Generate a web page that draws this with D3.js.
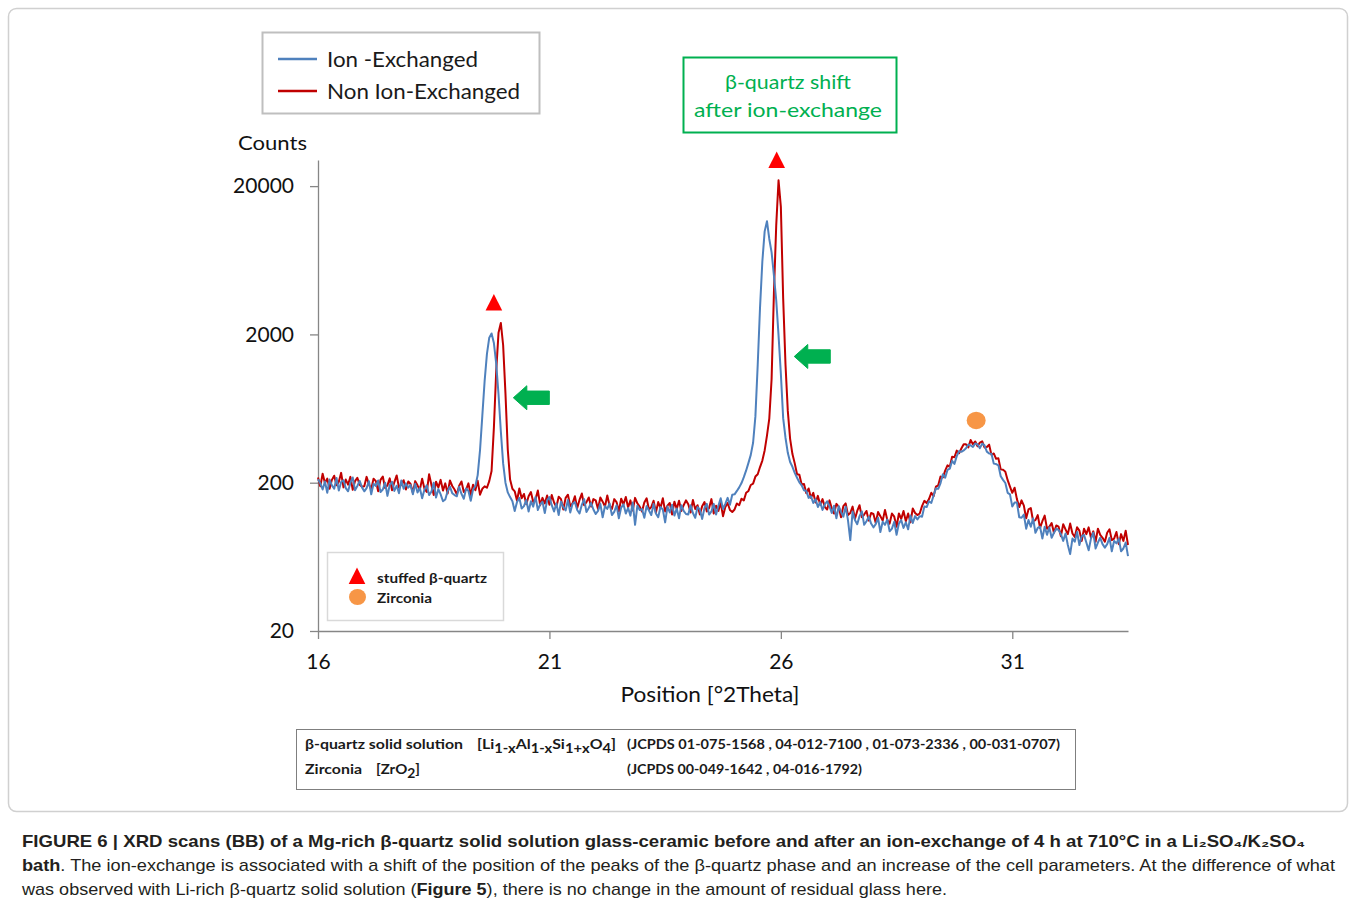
<!DOCTYPE html>
<html>
<head>
<meta charset="utf-8">
<script src="https://cdn.jsdelivr.net/npm/d3@7"></script>
<style>
  body { margin: 0; background: #fff; }
  svg { display: block; }
</style>
</head>
<body>
<svg id="chart" width="1356" height="905"></svg>
<script>
// scan grid of the diffractometer (°2Theta)
const scanStart = 16;
const scanStep = 0.05;

// counts, one value per scan step, 16.00 -> 33.50
const ionExchanged = [
  211, 198, 180, 204, 171, 210, 192, 182, 215, 177, 202, 208, 184, 175, 200, 217, 178, 190, 206, 186,
  175, 184, 205, 167, 197, 190, 207, 173, 180, 200, 163, 193, 203, 176, 191, 170, 207, 182, 198, 185,
  193, 167, 197, 172, 184, 157, 180, 192, 165, 174, 200, 159, 181, 167, 150, 154, 175, 188, 170, 165,
  162, 188, 168, 156, 183, 176, 151, 180, 190, 225, 330, 565, 970, 1480, 1900, 2030, 1750, 1270, 790, 445,
  270, 200, 172, 160, 150, 129, 148, 158, 134, 139, 153, 128, 150, 138, 160, 131, 143, 149, 125, 152,
  160, 141, 128, 145, 121, 149, 137, 130, 153, 126, 144, 148, 131, 124, 142, 155, 127, 135, 146, 132,
  123, 129, 144, 117, 139, 133, 145, 121, 127, 141, 115, 136, 143, 124, 135, 120, 147, 104, 140, 131,
  133, 116, 139, 130, 121, 144, 124, 117, 137, 132, 108, 138, 126, 142, 120, 134, 115, 141, 129, 123,
  122, 141, 125, 116, 137, 132, 114, 135, 144, 122, 128, 144, 122, 140, 157, 133, 144, 158, 142, 166,
  167, 176, 186, 199, 218, 242, 272, 308, 372, 560, 1250, 3040, 6200, 9900, 11600, 8800, 7150, 5000, 3400, 1970,
  1086, 545, 402, 318, 276, 256, 233, 216, 201, 192, 178, 176, 158, 162, 146, 155, 137, 148, 131, 143,
  150, 139, 125, 140, 115, 139, 127, 118, 138, 112, 82, 128, 112, 105, 119, 128, 104, 110, 118, 106,
  100, 105, 116, 93, 109, 104, 113, 94, 98, 109, 89, 106, 112, 99, 108, 97, 120, 107, 119, 113,
  119, 118, 138, 137, 150, 146, 164, 183, 182, 199, 228, 216, 244, 249, 281, 268, 302, 327, 323, 330,
  341, 362, 357, 348, 368, 362, 342, 367, 357, 324, 315, 314, 269, 267, 262, 221, 209, 199, 171, 167,
  138, 147, 147, 117, 116, 122, 98, 112, 101, 115, 92, 99, 101, 84, 101, 89, 100, 85, 92, 98,
  96, 90, 81, 91, 76, 66, 84, 80, 93, 76, 87, 89, 79, 70, 84, 92, 72, 79, 85, 77,
  73, 77, 85, 69, 81, 78, 84, 69, 72, 79, 64
];

const nonIonExchanged = [
  217, 189, 230, 199, 213, 182, 209, 223, 192, 203, 233, 186, 210, 194, 219, 179, 205, 216, 194, 188,
  189, 219, 195, 181, 213, 205, 175, 209, 220, 184, 192, 214, 178, 202, 224, 185, 195, 208, 180, 204,
  196, 171, 205, 192, 179, 213, 182, 173, 228, 194, 165, 203, 186, 209, 177, 198, 169, 207, 190, 180,
  167, 191, 204, 173, 180, 198, 165, 194, 178, 206, 166, 182, 189, 185, 205, 240, 470, 1130, 2050, 2390,
  1690, 800, 335, 210, 182, 175, 151, 183, 157, 168, 143, 162, 173, 148, 155, 177, 141, 158, 145, 164,
  142, 165, 147, 137, 161, 155, 132, 158, 166, 139, 145, 162, 135, 153, 169, 141, 148, 159, 138, 155,
  152, 133, 159, 149, 138, 164, 140, 133, 155, 148, 128, 156, 143, 160, 136, 152, 130, 158, 145, 138,
  128, 147, 157, 132, 137, 151, 126, 148, 135, 157, 128, 140, 146, 122, 149, 133, 151, 129, 141, 152,
  143, 126, 153, 133, 141, 122, 139, 148, 128, 135, 155, 124, 140, 129, 147, 119, 137, 146, 131, 127,
  132, 145, 141, 156, 152, 171, 176, 193, 197, 220, 228, 255, 282, 330, 415, 540, 1000, 3800, 10900, 21900,
  14500, 3500, 1260, 610, 395, 312, 270, 228, 226, 194, 196, 170, 183, 158, 171, 147, 163, 142, 155, 137,
  132, 152, 134, 124, 144, 138, 117, 139, 145, 121, 125, 138, 114, 129, 141, 117, 122, 129, 111, 125,
  123, 107, 127, 119, 111, 131, 112, 106, 124, 118, 101, 124, 114, 129, 110, 124, 108, 134, 125, 121,
  124, 139, 151, 146, 155, 171, 162, 188, 192, 220, 217, 241, 262, 256, 299, 297, 329, 316, 340, 363,
  363, 346, 388, 364, 379, 352, 373, 380, 346, 348, 361, 308, 315, 290, 292, 246, 245, 237, 208, 188,
  171, 185, 155, 137, 152, 140, 115, 132, 135, 110, 112, 121, 99, 110, 120, 98, 101, 107, 92, 103,
  101, 87, 105, 97, 90, 106, 91, 86, 100, 95, 81, 98, 90, 100, 85, 94, 80, 98, 89, 85,
  80, 92, 97, 82, 84, 93, 77, 90, 81, 95, 76
];

const xTicks = [16, 21, 26, 31];
const yTicks = [20, 200, 2000, 20000];
const seriesNames = ["Ion -Exchanged", "Non Ion-Exchanged"];
const phaseNames = ["stuffed β-quartz", "Zirconia"];

// peak markers [position, counts]
const quartzMarks = [[19.80, 2900], [25.91, 26450]];
const zirconiaMarks = [[30.22, 526]];
const shiftArrows = [[20.22, 748], [26.29, 1420]];

const font = "Lato, 'Open Sans', sans-serif";
const blue = "#4f81bd";
const red = "#c00000";
const green = "#00b050";

const svg = d3.select("#chart");
const x = d3.scaleLinear().domain([16, 33.5]).range([318, 1128]);
const y = d3.scaleLog().domain([20, 30000]).range([631, 160]);
const positions = ionExchanged.map((d, i) => +(scanStart + i * scanStep).toFixed(2));

const fit = (sel, len) => sel.attr("textLength", len).attr("lengthAdjust", "spacingAndGlyphs");

// figure frame
svg.append("rect")
  .attr("x", 8.5).attr("y", 8.5).attr("width", 1339).attr("height", 803).attr("rx", 8)
  .attr("fill", "none").attr("stroke", "#d0d0d0").attr("stroke-width", 1.5);

// axes
const yAxis = svg.append("g").attr("transform", "translate(318,0)")
  .call(d3.axisLeft(y).tickValues(yTicks).tickFormat(d3.format("d")).tickSize(8).tickSizeOuter(0).tickPadding(16));
const xAxis = svg.append("g").attr("transform", "translate(0,631)")
  .call(d3.axisBottom(x).tickValues(xTicks).tickSize(8).tickSizeOuter(0).tickPadding(15));

[yAxis, xAxis].forEach(g => {
  g.attr("font-family", font).attr("font-size", 21);
  g.select(".domain").attr("stroke", "#868686").attr("stroke-width", 1.3);
  g.selectAll(".tick line").attr("stroke", "#868686").attr("stroke-width", 1.3);
  g.selectAll(".tick text").attr("fill", "#111");
});

svg.append("text").attr("x", 238).attr("y", 150)
  .attr("font-family", font).attr("font-size", 20).attr("fill", "#111")
  .text("Counts").call(fit, 69);

svg.append("text").attr("x", 710).attr("y", 702).attr("text-anchor", "middle")
  .attr("font-family", font).attr("font-size", 21).attr("fill", "#111")
  .text("Position [°2Theta]").call(fit, 179);

// scans
const line = d3.line()
  .x((d, i) => x(positions[i]))
  .y(d => y(d));

[[nonIonExchanged, red], [ionExchanged, blue]].forEach(([vals, col]) => {
  svg.append("path")
    .datum(vals)
    .attr("d", line)
    .attr("fill", "none")
    .attr("stroke", col)
    .attr("stroke-width", 2)
    .attr("stroke-linejoin", "round");
});

// markers
const tri = (cx, by) => `M${cx},${by - 16.5}L${cx + 8.3},${by}L${cx - 8.3},${by}Z`;
quartzMarks.forEach(([p, c]) => {
  svg.append("path").attr("d", tri(x(p), y(c))).attr("fill", "#ff0000");
});
zirconiaMarks.forEach(([p, c]) => {
  svg.append("ellipse").attr("cx", x(p)).attr("cy", y(c)).attr("rx", 9.5).attr("ry", 8.7)
    .attr("fill", "#f79646");
});
shiftArrows.forEach(([p, c]) => {
  const tx = x(p), ty = y(c);
  svg.append("path")
    .attr("d", `M${tx},${ty}L${tx + 13.5},${ty - 12}L${tx + 13.5},${ty - 6.7}L${tx + 36},${ty - 6.7}` +
               `L${tx + 36},${ty + 6.7}L${tx + 13.5},${ty + 6.7}L${tx + 13.5},${ty + 12}Z`)
    .attr("fill", green).attr("stroke", green).attr("stroke-width", 1).attr("stroke-linejoin", "round");
});

// series legend
svg.append("rect").attr("x", 262.5).attr("y", 32.5).attr("width", 277).attr("height", 81)
  .attr("fill", "#fff").attr("stroke", "#bfbfbf").attr("stroke-width", 2);
seriesNames.forEach((name, i) => {
  const ly = 59 + i * 32;
  svg.append("line").attr("x1", 278).attr("x2", 317).attr("y1", ly).attr("y2", ly)
    .attr("stroke", i === 0 ? blue : red).attr("stroke-width", 2.5);
  svg.append("text").attr("x", 327).attr("y", ly + 7.5)
    .attr("font-family", font).attr("font-size", 21).attr("fill", "#1a1a1a")
    .text(name).call(fit, i === 0 ? 151 : 193);
});

// green note
svg.append("rect").attr("x", 683.5).attr("y", 57.5).attr("width", 213).attr("height", 75)
  .attr("fill", "#fff").attr("stroke", green).attr("stroke-width", 2);
[["β-quartz shift", 88.5, 126], ["after ion-exchange", 117, 188]].forEach(([t, ty, w]) => {
  svg.append("text").attr("x", 788).attr("y", ty).attr("text-anchor", "middle")
    .attr("font-family", font).attr("font-size", 20).attr("fill", green)
    .text(t).call(fit, w);
});

// phase legend
svg.append("rect").attr("x", 327.5).attr("y", 552.5).attr("width", 176).attr("height", 68)
  .attr("fill", "#fff").attr("stroke", "#d9d9d9").attr("stroke-width", 1.5);
svg.append("path").attr("d", tri(357, 584)).attr("fill", "#ff0000");
svg.append("ellipse").attr("cx", 357.5).attr("cy", 597).attr("rx", 8.5).attr("ry", 8)
  .attr("fill", "#f79646");
phaseNames.forEach((name, i) => {
  svg.append("text").attr("x", 377).attr("y", 582.5 + i * 20)
    .attr("font-family", font).attr("font-size", 14).attr("font-weight", "bold").attr("fill", "#1a1a1a")
    .text(name).call(fit, i === 0 ? 110 : 55);
});

// reference box
svg.append("rect").attr("x", 296.5).attr("y", 729.5).attr("width", 779).attr("height", 60)
  .attr("fill", "#fff").attr("stroke", "#7f7f7f").attr("stroke-width", 1);

const chem = (tx, ty, parts, w) => {
  const t = svg.append("text").attr("x", tx).attr("y", ty)
    .attr("font-family", font).attr("font-size", 13.5).attr("font-weight", "bold").attr("fill", "#1a1a1a");
  let low = false;
  parts.forEach(([s, sub]) => {
    const ts = t.append("tspan").text(s);
    if (sub && !low) { ts.attr("dy", 4).attr("font-size", 12.5); low = true; }
    else if (sub) { ts.attr("font-size", 12.5); }
    else if (low) { ts.attr("dy", -4); low = false; }
  });
  if (w) fit(t, w);
  return t;
};

chem(305, 749, [["β-quartz solid solution"]], 158);
chem(477, 749, [["[Li"], ["1-x", 1], ["Al"], ["1-x", 1], ["Si"], ["1+x", 1], ["O"], ["4", 1], ["]"]], 139);
chem(627, 749, [["(JCPDS 01-075-1568 , 04-012-7100 , 01-073-2336 , 00-031-0707)"]], 433);
chem(305, 774, [["Zirconia"]], 57);
chem(376, 774, [["[ZrO"], ["2", 1], ["]"]], 44);
chem(627, 774, [["(JCPDS 00-049-1642 , 04-016-1792)"]], 235);

// caption
const cap = (ty, parts, w) => {
  const t = svg.append("text").attr("x", 22).attr("y", ty)
    .attr("font-family", "'Liberation Sans', Arial, sans-serif").attr("font-size", 17).attr("fill", "#231f20");
  parts.forEach(([s, b]) => t.append("tspan").attr("font-weight", b ? "bold" : "normal").text(s));
  fit(t, w);
};
cap(847, [["FIGURE 6 | XRD scans (BB) of a Mg-rich β-quartz solid solution glass-ceramic before and after an ion-exchange of 4 h at 710°C in a Li₂SO₄/K₂SO₄", 1]], 1283);
cap(871, [["bath", 1], [". The ion-exchange is associated with a shift of the position of the peaks of the β-quartz phase and an increase of the cell parameters. At the difference of what"]], 1313);
cap(895, [["was observed with Li-rich β-quartz solid solution ("], ["Figure 5", 1], ["), there is no change in the amount of residual glass here."]], 925);
</script>
</body>
</html>
